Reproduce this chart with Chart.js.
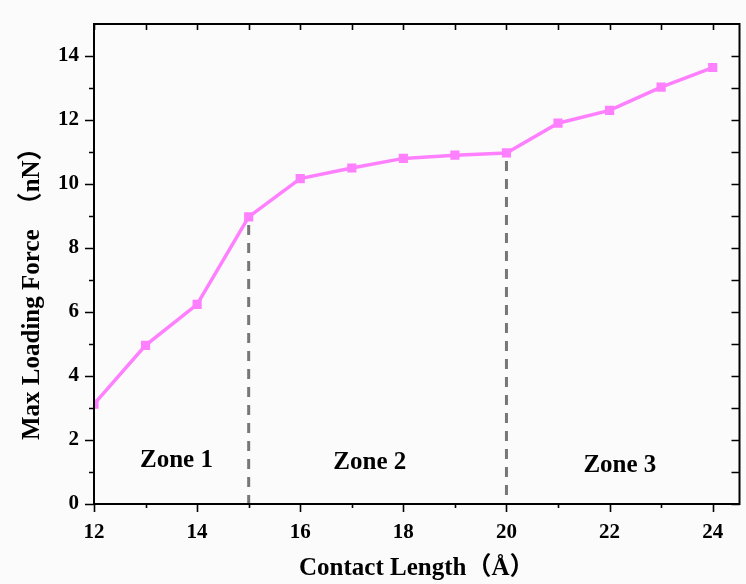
<!DOCTYPE html>
<html>
<head>
<meta charset="utf-8">
<script src="https://cdn.jsdelivr.net/npm/chart.js@4"></script>
<style>
  html, body { margin: 0; padding: 0; background: #fbfbfb; }
  #wrap { width: 746px; height: 584px; }
</style>
</head>
<body>
<div id="wrap"><canvas id="c"></canvas></div>
<script>
// data
const contactLength = [12, 13, 14, 15, 16, 17, 18, 19, 20, 21, 22, 23, 24];
const maxForce = [3.12, 4.96, 6.24, 8.97, 10.17, 10.5, 10.8, 10.9, 10.97, 11.9, 12.3, 13.03, 13.64];
const xTicks = [12, 14, 16, 18, 20, 22, 24];
const yTicks = [0, 2, 4, 6, 8, 10, 12, 14];
const zoneNames = ["Zone 1", "Zone 2", "Zone 3"];
const zoneBounds = [15, 20]; // dashed separators
const yTitle = ["Max Loading Force", "（nN）"];

const serif = "'Liberation Serif', 'Times New Roman', 'Noto Sans CJK SC', serif";

// zone label anchor spots (data units)
const zoneSpots = [[13.6, 1.35], [17.35, 1.3], [22.2, 1.2]];

const frame = {
  id: "frame",
  beforeDraw(chart) {
    const ctx = chart.ctx;
    ctx.save();
    ctx.fillStyle = "#fbfbfb";
    ctx.fillRect(0, 0, chart.width, chart.height);
    ctx.restore();
  },
  afterDatasetsDraw(chart) {
    const { ctx, chartArea: a, scales: { x, y } } = chart;
    ctx.save();
    // dashed separators
    ctx.strokeStyle = "#777";
    ctx.lineWidth = 3;
    ctx.setLineDash([10, 8]);
    zoneBounds.forEach(b => {
      const i = contactLength.indexOf(b);
      ctx.beginPath();
      ctx.moveTo(x.getPixelForValue(b), y.getPixelForValue(maxForce[i]) + 8);
      ctx.lineTo(x.getPixelForValue(b), a.bottom);
      ctx.stroke();
    });
    ctx.setLineDash([]);
    // frame
    ctx.strokeStyle = "#000";
    ctx.lineWidth = 2;
    ctx.strokeRect(a.left, a.top, a.right - a.left, a.bottom - a.top);
    // ticks
    ctx.lineWidth = 1.6;
    ctx.beginPath();
    for (let v = 12; v <= 24; v++) {
      const px = Math.round(x.getPixelForValue(v)) + 0.5;
      const len = v % 2 === 0 ? 8 : 4;
      ctx.moveTo(px, a.bottom); ctx.lineTo(px, a.bottom + len);
      ctx.moveTo(px, a.top); ctx.lineTo(px, a.top + 6);
    }
    for (let v = 0; v <= 14; v++) {
      const py = Math.round(y.getPixelForValue(v)) + 0.5;
      const len = v % 2 === 0 ? 9 : 5;
      ctx.moveTo(a.left, py); ctx.lineTo(a.left - len, py);
      ctx.moveTo(a.right, py); ctx.lineTo(a.right - 8, py);
    }
    ctx.stroke();
    // zone labels
    ctx.fillStyle = "#000";
    ctx.font = "bold 25px " + serif;
    ctx.textAlign = "center";
    ctx.textBaseline = "middle";
    zoneNames.forEach((n, i) => {
      ctx.fillText(n, x.getPixelForValue(zoneSpots[i][0]), y.getPixelForValue(zoneSpots[i][1]));
    });
    // y axis title, drawn by hand to sit lower like the original
    ctx.translate(a.left - 61, a.bottom - 64);
    ctx.rotate(-Math.PI / 2);
    ctx.textAlign = "left";
    ctx.fillText(yTitle[0], 0, 0);
    const w = ctx.measureText(yTitle[0]).width;
    ctx.fillText(yTitle[1], w + 12, 0);
    ctx.restore();
  }
};

const config = {
  type: "line",
  data: {
    datasets: [
      {
        data: contactLength.map((v, i) => ({ x: v, y: maxForce[i] })),
        borderColor: "#ff80ff",
        backgroundColor: "#ff80ff",
        borderWidth: 3.5,
        pointStyle: "rect",
        pointRadius: 6.5,
        pointBorderWidth: 0,
        tension: 0,
      },
    ],
  },
  options: {
    responsive: true,
    maintainAspectRatio: false,
    animation: false,
    layout: { padding: { top: 24, right: 6, left: 0, bottom: 0 } },
    plugins: { legend: { display: false }, tooltip: { enabled: false } },
    scales: {
      x: {
        type: "linear",
        min: 12,
        max: 24.52,
        grid: { display: false },
        border: { display: false },
        afterBuildTicks: (s) => { s.ticks = xTicks.map(v => ({ value: v })); },
        afterFit: (s) => { s.height = 80; },
        ticks: {
          padding: 8,
          color: "#000",
          font: { family: serif, size: 21, weight: "bold" },
        },
        title: {
          display: true,
          text: "Contact Length（Å）",
          color: "#000",
          padding: { top: 4, bottom: 0 },
          font: { family: serif, size: 25, weight: "bold" },
        },
      },
      y: {
        min: 0,
        max: 15,
        grid: { display: false },
        border: { display: false },
        afterBuildTicks: (s) => { s.ticks = yTicks.map(v => ({ value: v })); },
        afterFit: (s) => { s.width = 94; },
        ticks: {
          padding: 7,
          color: "#000",
          font: { family: serif, size: 21, weight: "bold" },
        },
      },
    },
  },
  plugins: [frame],
};

const myChart = new Chart(document.getElementById("c"), config);
</script>
</body>
</html>
